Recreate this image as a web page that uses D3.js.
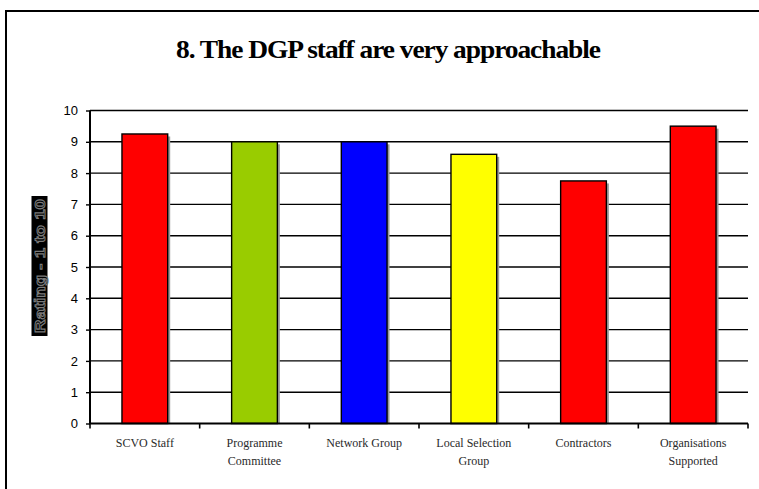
<!DOCTYPE html>
<html>
<head>
<meta charset="utf-8">
<script src="https://cdn.jsdelivr.net/npm/d3@7"></script>
<style>
  html, body { margin: 0; padding: 0; background: #fff; }
  svg { display: block; }
</style>
</head>
<body>
<svg id="chart" width="759" height="489"></svg>
<script>
// Survey question 8: mean rating per respondent group
const categories = [
  ["SCVO Staff"],
  ["Programme", "Committee"],
  ["Network Group"],
  ["Local Selection", "Group"],
  ["Contractors"],
  ["Organisations", "Supported"]
];
const ratings = [9.25, 9.0, 9.0, 8.6, 7.75, 9.5];
const barColors = ["#FF0000", "#99CC00", "#0000FF", "#FFFF00", "#FF0000", "#FF0000"];
const yTicks = [0, 1, 2, 3, 4, 5, 6, 7, 8, 9, 10];
const titleText = "8. The DGP staff are very approachable";
const yAxisLabel = "Rating - 1 to 10";

const svg = d3.select("#chart");
const plot = { left: 90, right: 748, top: 110.5, bottom: 423.5 };

// Outer chart frame (runs off the right and bottom edges)
svg.append("rect")
  .attr("x", 6).attr("y", 11)
  .attr("width", 900).attr("height", 700)
  .attr("fill", "#fff")
  .attr("stroke", "#000").attr("stroke-width", 2);

// Title: condensed bold serif
svg.append("text")
  .attr("x", 388).attr("y", 58)
  .attr("text-anchor", "middle")
  .attr("font-family", "'Liberation Serif', 'Times New Roman', serif")
  .attr("font-weight", "bold")
  .attr("font-size", 26)
  .attr("letter-spacing", -1)
  .attr("textLength", 424)
  .attr("lengthAdjust", "spacingAndGlyphs")
  .text(titleText);

const x = d3.scaleBand()
  .domain(d3.range(categories.length))
  .range([plot.left, plot.right])
  .paddingInner(0.583)
  .paddingOuter(0.2915);

const y = d3.scaleLinear().domain([0, 10]).range([plot.bottom, plot.top]);

// Horizontal gridlines
svg.append("g")
  .selectAll("line")
  .data(yTicks.filter(d => d > 0))
  .join("line")
  .attr("x1", plot.left).attr("x2", plot.right)
  .attr("y1", d => y(d)).attr("y2", d => y(d))
  .attr("stroke", "#000").attr("stroke-width", 1.4);

// Bar shadows
svg.append("g")
  .selectAll("rect")
  .data(ratings)
  .join("rect")
  .attr("x", (d, i) => x(i) + 2.5)
  .attr("y", d => y(d) + 2.5)
  .attr("width", x.bandwidth())
  .attr("height", d => y(0) - y(d) - 2.5)
  .attr("fill", "#9a9a9a");

// Bars
svg.append("g")
  .selectAll("rect")
  .data(ratings)
  .join("rect")
  .attr("x", (d, i) => x(i))
  .attr("y", d => y(d))
  .attr("width", x.bandwidth())
  .attr("height", d => y(0) - y(d))
  .attr("fill", (d, i) => barColors[i])
  .attr("stroke", "#000").attr("stroke-width", 1.4);

// Y axis
const yAxis = svg.append("g")
  .attr("transform", `translate(${plot.left},0)`)
  .call(d3.axisLeft(y).tickValues(yTicks).tickSize(4).tickPadding(8).tickFormat(d3.format("d")));
yAxis.select(".domain").attr("stroke", "#000").attr("stroke-width", 2)
  .attr("d", `M0,${plot.top}V${plot.bottom}`);
yAxis.selectAll(".tick line").attr("stroke", "#000").attr("stroke-width", 1.4);
yAxis.selectAll(".tick text")
  .attr("font-family", "'Liberation Sans', Arial, sans-serif")
  .attr("font-size", 13)
  .attr("fill", "#000");

// X axis with ticks between categories
const xEdges = d3.range(categories.length + 1).map(i => plot.left + i * x.step());
const xAxisG = svg.append("g");
xAxisG.append("line")
  .attr("x1", plot.left - 1).attr("x2", plot.right)
  .attr("y1", plot.bottom).attr("y2", plot.bottom)
  .attr("stroke", "#000").attr("stroke-width", 2);
xAxisG.selectAll("line.tick")
  .data(xEdges)
  .join("line")
  .attr("class", "tick")
  .attr("x1", d => d).attr("x2", d => d)
  .attr("y1", plot.bottom).attr("y2", plot.bottom + 5)
  .attr("stroke", "#000").attr("stroke-width", 1.6);

// Category labels
const labels = svg.append("g")
  .selectAll("text")
  .data(categories)
  .join("text")
  .attr("x", (d, i) => x(i) + x.bandwidth() / 2)
  .attr("y", 447)
  .attr("text-anchor", "middle")
  .attr("font-family", "'Liberation Serif', 'Times New Roman', serif")
  .attr("font-size", 12)
  .attr("fill", "#2a2a2a");
labels.selectAll("tspan")
  .data(d => d)
  .join("tspan")
  .attr("x", function () { return d3.select(this.parentNode).attr("x"); })
  .attr("dy", (d, i) => i === 0 ? 0 : 18)
  .text(d => d);

// Y axis title: outlined text on a dark block
const yl = svg.append("g").attr("transform", "translate(39.5,266) rotate(-90)");
yl.append("rect")
  .attr("x", -70).attr("y", -8)
  .attr("width", 140).attr("height", 16)
  .attr("fill", "#000");
yl.append("text")
  .attr("x", 0).attr("y", 5.5)
  .attr("text-anchor", "middle")
  .attr("font-family", "'Liberation Sans', Arial, sans-serif")
  .attr("font-weight", "bold")
  .attr("font-size", 15)
  .attr("textLength", 134)
  .attr("lengthAdjust", "spacingAndGlyphs")
  .attr("fill", "#000")
  .attr("stroke", "#7a7a7a")
  .attr("stroke-width", 1)
  .text(yAxisLabel);
</script>
</body>
</html>
